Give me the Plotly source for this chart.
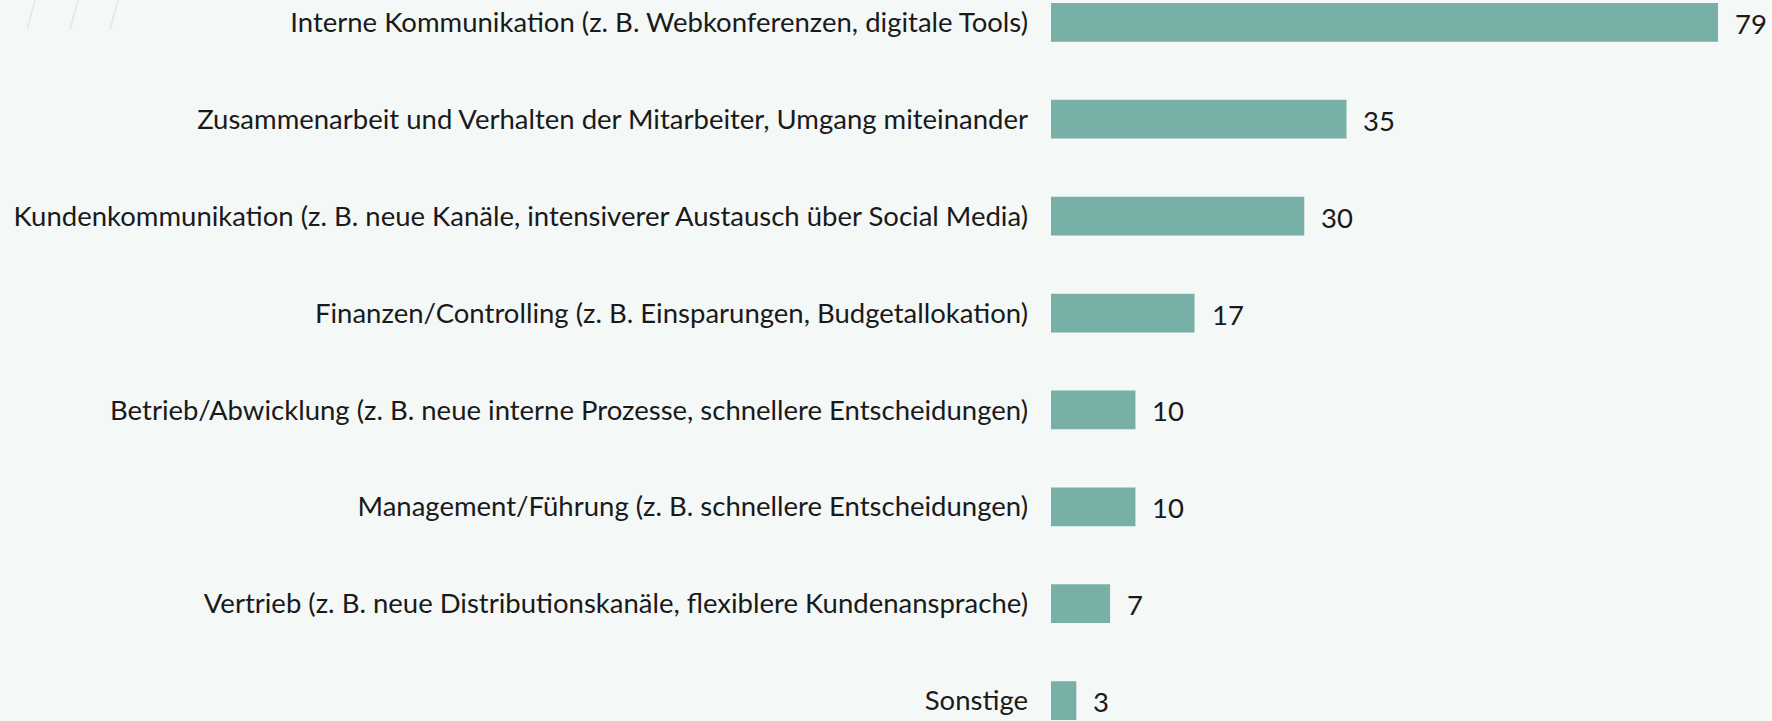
import plotly.graph_objects as go

categories = [
    "Interne Kommunikation (z. B. Webkonferenzen, digitale Tools)",
    "Zusammenarbeit und Verhalten der Mitarbeiter, Umgang miteinander",
    "Kundenkommunikation (z. B. neue Kanäle, intensiverer Austausch über Social Media)",
    "Finanzen/Controlling (z. B. Einsparungen, Budgetallokation)",
    "Betrieb/Abwicklung (z. B. neue interne Prozesse, schnellere Entscheidungen)",
    "Management/Führung (z. B. schnellere Entscheidungen)",
    "Vertrieb (z. B. neue Distributionskanäle, flexiblere Kundenansprache)",
    "Sonstige",
]
values = [79, 35, 30, 17, 10, 10, 7, 3]

BG = "#f4f8f7"
BAR = "#78afa6"
TEXT = "#1a1a1a"
FONT = "Lato"
FS = 27.5

fig = go.Figure(go.Bar(
    x=values, y=categories, orientation="h",
    marker=dict(color=BAR, line_width=0), width=0.4,
    hoverinfo="x+y",
))

for c, v in zip(categories, values):
    fig.add_annotation(x=v, y=c, text=str(v), showarrow=False,
                       xanchor="left", xshift=15, yshift=-1,
                       font=dict(size=FS, color=TEXT, family=FONT))

# faint decorative slashes in the top-left corner
for x0 in [35, 78, 118]:
    fig.add_shape(type="line", xref="paper", yref="paper",
                  x0=(x0 - 1051) / 721, x1=(x0 - 8 - 1051) / 721, y0=1.0, y1=1 - 30 / 721,
                  line=dict(color="#d8ece8", width=1.5))

fig.update_layout(
    width=1772, height=721,
    paper_bgcolor=BG, plot_bgcolor=BG,
    margin=dict(l=1051, r=0, t=0, b=0),
    showlegend=False,
    font=dict(family=FONT, size=FS, color=TEXT),
    xaxis=dict(range=[0, 85.4], visible=False, showgrid=False, zeroline=False),
    yaxis=dict(range=[7.21, -0.23], showgrid=False, zeroline=False, showline=False,
               ticks="", ticklabelstandoff=22, tickfont=dict(size=FS, color=TEXT, family=FONT)),
)

fig.write_html("out.html", config={"displayModeBar": False},
               post_script="document.body.style.margin='0';")
